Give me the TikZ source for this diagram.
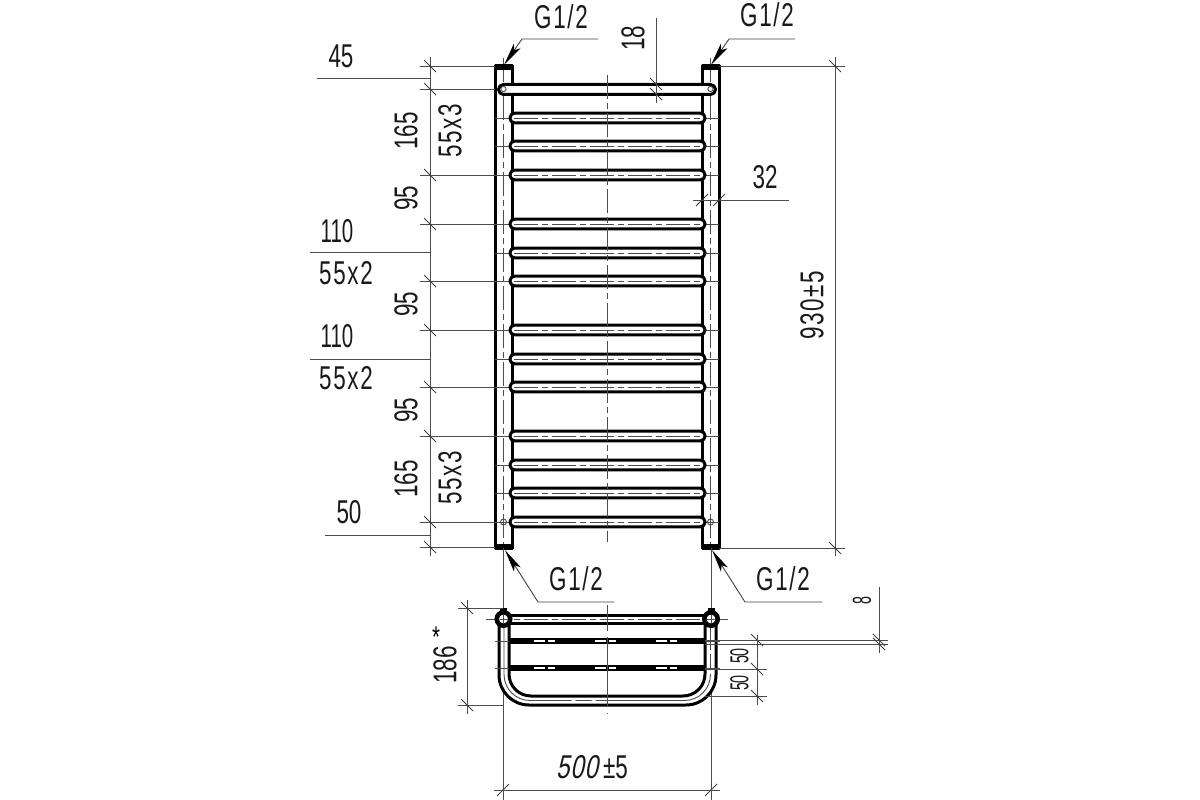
\documentclass[tikz,border=0pt]{standalone}
\usepackage{fontspec}
\usetikzlibrary{arrows.meta}
\setmainfont[FakeStretch=0.68]{Liberation Sans}
\newfontfamily\narrowf[FakeStretch=0.62]{Liberation Sans}
\newfontfamily\widef[FakeStretch=0.68,LetterSpace=5]{Liberation Sans}
\newfontfamily\tinyf[FakeStretch=0.55]{Liberation Sans}
\newfontfamily\slantf[FakeStretch=0.72,FakeSlant=0.2,LetterSpace=3]{Liberation Sans}
\newcommand{\rotdim}[3]{\node[lbl,rotate=90] (#3) at (#1) {#2};}
\tikzset{
  lbl/.style={font=\fontsize{33}{33}\selectfont,text=black!90,inner sep=0pt},
  lblsmall/.style={font=\tinyf\fontsize{26}{26}\selectfont,text=black!90,inner sep=0pt},
  thin line/.style={line width=0.9pt,draw=black!70},
  heavy/.style={line width=3pt,draw=black,line join=round},
  axis/.style={line width=0.9pt,draw=black!70,dash pattern=on 24pt off 4pt on 6pt off 4pt},
  tick/.style={line width=0.9pt,draw=black!75},
  leader/.style={line width=0.9pt,draw=black!75,-{Stealth[length=23pt,width=8pt,inset=5pt,color=black]}}
}
\begin{document}
\begin{tikzpicture}[x=1pt,y=-1pt]
\useasboundingbox (0,0) rectangle (1200,800);
% ----- centre lines (front view)
\draw[axis] (503.5,58) -- (503.5,548);
\draw[axis] (710.5,58) -- (710.5,548);
% ----- rails
\draw[heavy] (495,66) rectangle (512.5,548);
\draw[heavy] (702.5,66) rectangle (719,548);
\fill[black] (494,65) rectangle (513.5,70);
\fill[black] (701,65) rectangle (720,70);
\fill[black] (494,544) rectangle (513.5,549);
\fill[black] (701,544) rectangle (720,549);
% ----- towel bar
\draw[heavy,fill=white,rounded corners=5pt] (498.5,84.5) rectangle (715.5,94.5);
\draw[thin line] (503.5,89) circle (2.6);
\draw[thin line] (710.5,89) circle (2.6);
\draw[thin line] (503.5,522) circle (3);
\draw[thin line] (710.5,522) circle (3);
% ----- rungs
\foreach \yy in {118,146,175,224,253,281,330,359,387,436,465,493,522}{
  \draw[thin line] (495,\yy) -- (510,\yy);
  \draw[thin line] (705,\yy) -- (719,\yy);
  \draw[heavy,fill=white,rounded corners=4.5pt] (510,\yy-4.8) rectangle (705,\yy+4.8);
  \draw[axis] (514,\yy) -- (702,\yy);
}
\draw[axis] (607,75) -- (607,542);
% ----- left dimension chain
\draw[thin line] (430,57) -- (430,556);
\foreach \yy in {66,89,175,224,281,330,387,436,522,547}{
  \draw[thin line] (420,\yy) -- (495,\yy);
  \draw[tick] (424,\yy-6) -- (436,\yy+6);
}
\draw[thin line] (317,78) -- (430,78);
\draw[thin line] (310,252) -- (430,252);
\draw[thin line] (310,359) -- (430,359);
\draw[thin line] (325,535) -- (430,535);
\node[lbl] (n45) at (341,56) {45};
\node[lbl] (n110a) at (337,231) {\narrowf 110};
\node[lbl] (n552a) at (346,273) {\widef 55x2};
\node[lbl] (n110b) at (337,336) {\narrowf 110};
\node[lbl] (n552b) at (346,378) {\widef 55x2};
\node[lbl] (n50) at (349,512) {50};
\rotdim{406,131}{165}{r165a}
\rotdim{450,131}{\widef 55x3}{r553a}
\rotdim{406,198}{95}{r95a}
\rotdim{406,304}{95}{r95b}
\rotdim{406,410}{95}{r95c}
\rotdim{406,479}{165}{r165b}
\rotdim{450,478}{\widef 55x3}{r553b}
% ----- 18
\draw[thin line] (656,18) -- (656,103);
\foreach \yy in {84,94}{\draw[tick] (650,\yy-6) -- (662,\yy+6);}
\rotdim{633,38}{18}{r18}
% ----- 32
\draw[thin line] (693,200) -- (789,200);
\foreach \xx in {702,719}{\draw[tick] (\xx-6,206) -- (\xx+6,194);}
\node[lbl] (n32) at (765,177) {32};
% ----- 930
\draw[thin line] (719,66) -- (845,66);
\draw[thin line] (719,548) -- (845,548);
\draw[thin line] (835,57) -- (835,556);
\foreach \yy in {66,548}{\draw[tick] (829,\yy-6) -- (841,\yy+6);}
\rotdim{812,305}{\widef 930±5}{r930}
% ----- G1/2 leaders
\coordinate (tl) at (504,65); \coordinate (tlb) at (522,39); \coordinate (tle) at (598,39);
\coordinate (tr) at (711,65); \coordinate (trb) at (729,39); \coordinate (tre) at (795,39);
\coordinate (bl) at (505,550); \coordinate (blb) at (538,602); \coordinate (ble) at (614,602);
\coordinate (br) at (712,550); \coordinate (brb) at (745,602); \coordinate (bre) at (822,602);
\draw[leader] (tle) -- (tlb) -- (tl);
\draw[leader] (tre) -- (trb) -- (tr);
\draw[leader] (ble) -- (blb) -- (bl);
\draw[leader] (bre) -- (brb) -- (br);
\node[lbl] (g1) at (561,17) {\widef G1/2};
\node[lbl] (g2) at (767,15) {\widef G1/2};
\node[lbl] (g3) at (576,579) {\widef G1/2};
\node[lbl] (g4) at (783,579) {\widef G1/2};
% ----- plan view
\draw[thin line] (503,548) -- (503,800);
\draw[thin line] (711,548) -- (711,800);
\draw[heavy,rounded corners=30pt,fill=white] (499,622) -- (499,705) -- (716,705) -- (716,622);
\draw[heavy,rounded corners=22pt] (509,622) -- (509,696) -- (705,696) -- (705,622);
\draw[line width=0.9pt,draw=black!70,rounded corners=26pt,dash pattern=on 130pt off 4pt on 16pt off 4pt] (504,627) -- (504,700.5) -- (710.5,700.5) -- (710.5,627);
\draw[heavy,fill=white] (503,615) rectangle (711,623);
\draw[axis] (486,619) -- (728,619);
\foreach \yy in {641,668}{
  \draw[thin line] (495,\yy) -- (509,\yy);
  \draw[thin line] (705,\yy) -- (720,\yy);
  \fill[black] (509,\yy-3) rectangle (705,\yy+3);
  \draw[white,line width=1.1pt,dash pattern=on 11pt off 3pt on 7pt off 40pt] (534,\yy) -- (705,\yy);
}
\foreach \xx in {503.5,711}{
  \fill[black] (\xx-3.5,608) rectangle (\xx+3.5,613);
  \draw[line width=4.6pt,draw=black,fill=white] (\xx,619) circle (6.7);
  \draw[thin line] (\xx-4,619) -- (\xx+4,619);
  \draw[thin line] (\xx,615) -- (\xx,623);
}
\draw[axis,dash pattern=on 26pt off 6pt on 70pt off 6pt] (607,605) -- (607,714);
% 186
\draw[thin line] (467,600) -- (467,714);
\draw[thin line] (458,608) -- (503,608);
\draw[thin line] (458,705) -- (503,705);
\foreach \yy in {608,705}{\draw[tick] (461,\yy-6) -- (473,\yy+6);}
\rotdim{445,665}{186}{r186}
\node[inner sep=0pt,font=\fontsize{30}{30}\selectfont] (star) at (436,637) {*};
% 50 50
\draw[thin line] (757,635) -- (757,705);
\draw[thin line] (705,640) -- (767,640);
\draw[thin line] (705,669) -- (767,669);
\draw[thin line] (705,696) -- (767,696);
\foreach \yy in {640,669,696}{\draw[tick] (751,\yy-6) -- (763,\yy+6);}
\node[lblsmall,rotate=90] (r50a) at (739.5,656) {50};
\node[lblsmall,rotate=90] (r50b) at (739.5,683) {50};
% 8
\draw[thin line] (705,640) -- (888,640);
\draw[thin line] (705,644) -- (888,644);
\draw[thin line] (879,587) -- (879,653);
\foreach \yy in {640,644}{\draw[tick] (873,\yy-6) -- (885,\yy+6);}
\node[lblsmall,rotate=90] (r8) at (862,601) {8};
% 500
\draw[thin line] (494,790) -- (720,790);
\foreach \xx in {503,711}{\draw[tick] (\xx-6,796) -- (\xx+6,784);}
\node[lbl] (n500) at (577,767) {\slantf 500};
\node[lbl] (n5) at (615.5,767) {±5};
\end{tikzpicture}
\end{document}
